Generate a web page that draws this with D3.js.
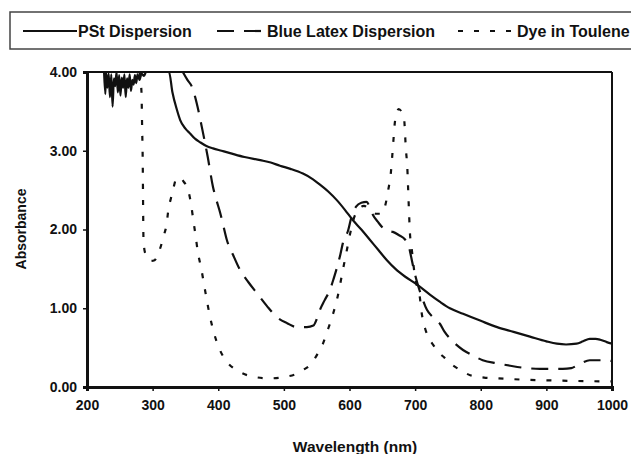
<!DOCTYPE html>
<html>
<head>
<meta charset="utf-8">
<script src="https://cdn.jsdelivr.net/npm/d3@7"></script>
<style>
	body{margin:0;background:#fff;}
	text{font-family:"Liberation Sans",Arial,sans-serif;font-weight:bold;fill:#111;}
</style>
</head>
<body>
<div id="chart"></div>
<script>
// wavelength (nm) / absorbance
var pstWl=[226,228,229,231,233,235,237,239,241,243,245,247,249,251,253,255,257,259,261,263,265,267,269,271,273,275,277,280,283,287,290,325,330,337,342,350,357,365,372,382,392,405,418,440,464,480,494,510,529,542,555,568,581,593,605,618,631,644,657,670,685,703,723,738,753,773,800,825,850,875,900,916,930,946,956,966,975,982,992,1000];
var pstAbs=[4.0,3.72,4.0,3.8,3.98,3.68,3.97,3.56,3.92,3.82,4.0,3.74,3.96,3.7,3.93,3.8,3.97,3.68,3.92,3.8,3.97,3.76,3.9,3.84,3.96,3.86,3.97,3.9,3.98,3.95,4.0,4.0,3.75,3.52,3.39,3.28,3.22,3.15,3.11,3.06,3.03,3.0,2.97,2.92,2.88,2.85,2.81,2.77,2.71,2.65,2.57,2.48,2.37,2.25,2.12,2.0,1.87,1.74,1.61,1.5,1.4,1.3,1.17,1.08,1.0,0.93,0.84,0.76,0.7,0.64,0.58,0.55,0.54,0.55,0.58,0.61,0.61,0.6,0.57,0.55];

var latexWl=[346,353,360,367,375,384,392,397,403,408,413,423,433,446,459,474,489,505,520,535,545,550,555,562,570,576,581,586,590,598,603,610,618,626,631,636,643,651,660,666,675,685,690,694,697,703,710,718,728,738,745,755,773,788,803,825,845,870,890,925,938,946,955,966,987,1000];
var latexAbs=[4.0,3.9,3.81,3.61,3.3,2.92,2.54,2.38,2.21,2.04,1.87,1.67,1.49,1.33,1.19,1.03,0.89,0.81,0.76,0.76,0.78,0.86,0.98,1.1,1.23,1.38,1.52,1.68,1.83,1.99,2.16,2.29,2.34,2.35,2.28,2.18,2.1,2.02,1.98,1.97,1.93,1.87,1.8,1.65,1.53,1.33,1.15,0.98,0.88,0.8,0.7,0.6,0.47,0.4,0.34,0.3,0.27,0.24,0.23,0.23,0.24,0.27,0.31,0.34,0.34,0.33];

var dyeWl=[280,283,284,285,285.5,286,288,292,297,303,309,314,318,321,324,328,331,337,343,348,352,358,362,365,369,374,378,382,387,393,401,413,423,433,453,479,502,520,530,540,552,560,565,575,582,590,596,601,607,614,622,630,640,648,654,659,663,665,667,669,672,675,679,683,686,688,690,692,695,699,703,707,710,715,721,728,736,745,755,764,784,805,825,875,925,1000];
var dyeAbs=[4.0,3.75,3.3,2.8,2.3,1.9,1.72,1.65,1.6,1.61,1.7,1.83,1.95,2.05,2.25,2.4,2.5,2.66,2.65,2.6,2.55,2.35,2.12,1.95,1.71,1.51,1.32,1.13,0.91,0.7,0.5,0.32,0.24,0.19,0.13,0.11,0.13,0.17,0.22,0.28,0.43,0.56,0.68,0.93,1.15,1.49,1.74,1.95,2.15,2.26,2.3,2.26,2.2,2.2,2.29,2.5,2.72,2.92,3.14,3.35,3.48,3.53,3.5,3.42,3.01,2.8,2.37,1.97,1.74,1.45,1.27,1.15,0.94,0.75,0.62,0.53,0.44,0.37,0.29,0.24,0.15,0.12,0.11,0.09,0.08,0.07];

var seriesNames=["PSt Dispersion","Blue Latex Dispersion","Dye in Toulene"];
var xTicks=[200,300,400,500,600,700,800,900,1000];
var yTicks=[0,1,2,3,4];

var W=631,H=454;
var pLeft=87,pRight=612,pTop=72,pBottom=387;

var svg=d3.select("#chart").append("svg").attr("width",W).attr("height",H);

var x=d3.scaleLinear().domain([200,1000]).range([pLeft,pRight]);
var y=d3.scaleLinear().domain([0,4]).range([pBottom,pTop]);

svg.append("clipPath").attr("id","plotclip").append("rect")
	.attr("x",pLeft).attr("y",pTop-1).attr("width",pRight-pLeft).attr("height",pBottom-pTop+1);

// frame
svg.append("line").attr("x1",pLeft).attr("x2",pRight).attr("y1",pTop).attr("y2",pTop)
	.attr("stroke","#111").attr("stroke-width",2);
svg.append("line").attr("x1",pRight).attr("x2",pRight).attr("y1",pTop).attr("y2",pBottom)
	.attr("stroke","#111").attr("stroke-width",2);

var styles=[
	{dash:null},
	{dash:"17,10"},
	{dash:"5,11"}
];
var sets=[[pstWl,pstAbs],[latexWl,latexAbs],[dyeWl,dyeAbs]];

var line=d3.line().x(function(d){return x(d[0]);}).y(function(d){return y(d[1]);})
	.curve(d3.curveMonotoneX);

var plot=svg.append("g").attr("clip-path","url(#plotclip)");
sets.forEach(function(s,i){
	var pts=s[0].map(function(w,j){return [w,s[1][j]];});
	plot.append("path").datum(pts)
		.attr("d",line)
		.attr("fill","none")
		.attr("stroke","#111")
		.attr("stroke-width",2.2)
		.attr("stroke-dasharray",styles[i].dash);
});

// axes
var xAxis=svg.append("g").attr("transform","translate(0,"+pBottom+")")
	.call(d3.axisBottom(x).tickValues(xTicks).tickSize(4).tickPadding(9).tickFormat(d3.format("d")));
var yAxis=svg.append("g").attr("transform","translate("+pLeft+",0)")
	.call(d3.axisLeft(y).tickValues(yTicks).tickSize(4).tickPadding(6).tickFormat(d3.format(".2f")));
[xAxis,yAxis].forEach(function(a){
	a.select(".domain").attr("stroke","#111").attr("stroke-width",3);
	a.selectAll(".tick line").attr("stroke","#111").attr("stroke-width",1.5);
	a.selectAll(".tick text").style("font-size","14px").style("font-family","'Liberation Sans',Arial,sans-serif")
		.style("font-weight","bold").attr("fill","#111");
});

svg.append("text").attr("x",355).attr("y",452).attr("text-anchor","middle")
	.style("font-size","15.5px").text("Wavelength (nm)");
svg.append("text").attr("transform","translate(26,229) rotate(-90)").attr("text-anchor","middle")
	.style("font-size","14px").text("Absorbance");

// legend
var leg=svg.append("g");
leg.append("rect").attr("x",10).attr("y",12).attr("width",640).attr("height",37)
	.attr("fill","#fff").attr("stroke","#444").attr("stroke-width",1.5);
var legItems=[{x1:23,x2:77,tx:78},{x1:217,x2:262,tx:267},{x1:458,x2:516,tx:517}];
legItems.forEach(function(d,i){
	leg.append("line").attr("x1",d.x1).attr("x2",d.x2).attr("y1",31).attr("y2",31)
		.attr("stroke","#111").attr("stroke-width",2.2).attr("stroke-dasharray",styles[i].dash);
	leg.append("text").attr("x",d.tx).attr("y",36.5).style("font-size","16px").text(seriesNames[i]);
});
</script>
</body>
</html>
